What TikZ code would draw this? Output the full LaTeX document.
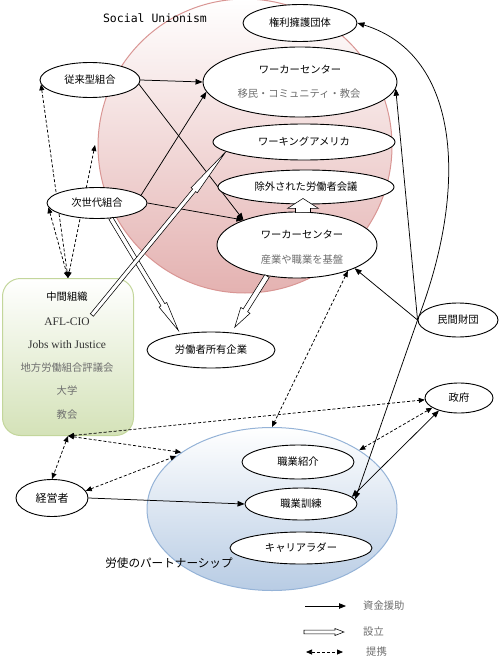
\documentclass[tikz,border=0pt]{standalone}
\usepackage{fontspec}
\setmainfont{Liberation Serif}
\newfontfamily\jp{Noto Sans CJK JP}
\newfontfamily\monof{DejaVu Sans Mono}
\usetikzlibrary{shapes.geometric,arrows.meta,calc}
\pgfdeclarelayer{back}
\pgfdeclarelayer{conn}
\pgfsetlayers{back,conn,main}
\definecolor{pinkline}{RGB}{217,150,148}
\definecolor{pinkfill}{RGB}{228,178,177}
\definecolor{blueline}{RGB}{149,179,215}
\definecolor{bluefill}{RGB}{184,204,228}
\definecolor{greenline}{RGB}{195,214,155}
\definecolor{greenfill}{RGB}{212,226,184}
\definecolor{subgray}{RGB}{110,110,110}
\definecolor{darktext}{RGB}{50,50,50}
\newcommand{\hollowarr}[5]{%
  \coordinate (ha-a) at #1;
  \coordinate (ha-b) at #2;
  \coordinate (ha-c) at ($(ha-b)!#5!(ha-a)$);
  \draw[hollowarrow] ($(ha-a)!#3!90:(ha-b)$) -- ($(ha-c)!#3!-90:(ha-a)$) -- ($(ha-c)!#4!-90:(ha-a)$) -- (ha-b) -- ($(ha-c)!#4!90:(ha-a)$) -- ($(ha-c)!#3!90:(ha-a)$) -- ($(ha-a)!#3!-90:(ha-b)$) -- cycle;}
\begin{document}
\begin{tikzpicture}[x=1pt,y=-1pt,
  oval/.style={ellipse, draw, line width=0.9pt, fill=white, inner sep=0pt, font=\jp\fontsize{10.3}{12}\selectfont},
  fundarr/.style={line width=0.75pt, -{Triangle[length=7pt,width=5.5pt]}},
  fundboth/.style={line width=0.75pt, {Triangle[length=7pt,width=5.5pt]}-{Triangle[length=7pt,width=5.5pt]}},
  linkarr/.style={line width=0.75pt, dash pattern=on 3pt off 2pt, {Triangle[length=6pt,width=5pt]}-{Triangle[length=6pt,width=5pt]}},
  hollowarrow/.style={draw, line width=0.55pt, fill=white, line join=miter},
  jtext/.style={font=\jp\fontsize{10.3}{12}\selectfont, inner sep=0pt},
  gtext/.style={jtext, text=subgray},
  ltext/.style={font=\fontsize{11.5}{13}\selectfont, inner sep=0pt, text=darktext}]
\useasboundingbox (0,0) rectangle (500,658);

\begin{pgfonlayer}{back}
\node[circle, minimum size=294pt, inner sep=0pt, draw=pinkline, line width=1pt, top color=white, bottom color=pinkfill] (su) at (245,146) {};
\node[ellipse, minimum width=250pt, minimum height=163pt, inner sep=0pt, draw=blueline, line width=1pt, top color=white, bottom color=bluefill] (lp) at (272,509) {};
\node[rectangle, rounded corners=18pt, minimum width=131pt, minimum height=157pt, anchor=north west, inner sep=0pt, draw=greenline, line width=1pt, top color=white, bottom color=greenfill] (mid) at (2,278) {};
\end{pgfonlayer}

% titles
\node[font=\monof\fontsize{11.5}{13}\selectfont, inner sep=0pt] (sutitle) at (155,18) {Social Unionism};
\node[font=\jp\fontsize{11.6}{13}\selectfont, inner sep=0pt] (lptitle) at (169,563) {労使のパートナーシップ};

% ellipse nodes
\node[oval, minimum width=114pt, minimum height=37pt] (adv) at (300,23) {権利擁護団体};
\node[oval, minimum width=194pt, minimum height=70pt] (wc1) at (300,82) {};
\node[jtext] (wc1a) at (300,70) {ワーカーセンター};
\node[gtext] (wc1b) at (299,94) {移民・コミュニティ・教会};
\node[oval, minimum width=182pt, minimum height=36pt] (wam) at (304,142) {ワーキングアメリカ};
\node[oval, minimum width=176pt, minimum height=34pt] (exc) at (306,187) {除外された労働者会議};
\node[oval, minimum width=160pt, minimum height=66pt] (wc2) at (297,245) {};
\node[jtext] (wc2a) at (302,235) {ワーカーセンター};
\node[gtext] (wc2b) at (302,260) {産業や職業を基盤};
\node[oval, minimum width=100pt, minimum height=35pt] (trad) at (90,80) {従来型組合};
\node[oval, minimum width=100pt, minimum height=31pt] (next) at (97,203) {次世代組合};
\node[oval, minimum width=128pt, minimum height=36pt] (wown) at (211,350) {労働者所有企業};
\node[oval, minimum width=80pt, minimum height=34pt] (found) at (458,320) {民間財団};
\node[oval, minimum width=68pt, minimum height=30pt] (gov) at (459,398) {政府};
\node[oval, minimum width=112pt, minimum height=34pt] (jp) at (298,462) {職業紹介};
\node[oval, minimum width=112pt, minimum height=32pt] (jt) at (301,504) {職業訓練};
\node[oval, minimum width=142pt, minimum height=32pt] (cl) at (301,548) {キャリアラダー};
\node[oval, minimum width=72pt, minimum height=37pt, font=\jp\fontsize{11}{13}\selectfont] (emp) at (52,498) {経営者};

% box texts
\node[jtext] (m1) at (67,297) {中間組織};
\node[ltext] (afl) at (67,322) {AFL-CIO};
\node[ltext] (jwj) at (67,345) {Jobs with Justice};
\node[gtext] (m4) at (67,368) {地方労働組合評議会};
\node[gtext] (m5) at (67,391) {大学};
\node[gtext] (m6) at (67,415) {教会};

% connectors
\coordinate (dfree) at (95,145);
\begin{pgfonlayer}{conn}
\draw[fundarr] (trad.east) -- (wc1.west);
\draw[fundarr] (trad.-5) -- (wc2.155);
\draw[fundarr] (next.10) -- (wc1.186);
\draw[fundarr] (next.east) -- (wc2.155);
\draw[fundarr] (found.west) .. controls (468,190) and (462,55) .. (adv.east);
\draw[fundarr] (found.west) -- (wc1.-4);
\draw[fundarr] (found.west) -- (wc2.-22);
\draw[fundarr] (found.west) -- (jt.5);
\draw[fundarr] (emp.east) -- (jt.west);
\draw[fundboth] (gov.212) -- (jt.8);
\draw[linkarr] (trad.185) -- (mid.north);
\draw[linkarr] (next.185) -- (mid.north);
\draw[linkarr] (dfree) -- (mid.north);
\draw[linkarr] (mid.south) -- (gov.183);
\draw[linkarr] (mid.south) -- (emp.north);
\draw[linkarr] (mid.south) -- (lp.148);
\draw[linkarr] (emp.12) -- (lp.151);
\draw[linkarr] (wc2.-27) -- (lp.north);
\draw[linkarr] (gov.200) -- (lp.34);
\end{pgfonlayer}

% hollow (establishment) arrows
\hollowarr{($(wc2.north)+(6pt,-1pt)$)}{($(exc.south)+(-3pt,6pt)$)}{7.5pt}{15.5pt}{10pt}
\hollowarr{(next.-48)}{($(wown.150)+(-4pt,3pt)$)}{2.2pt}{4.5pt}{30pt}
\hollowarr{($(afl.east)+(2pt,7pt)$)}{(wam.187)}{2pt}{4pt}{50pt}
\hollowarr{(wc2.226)}{($(wown.45)+(6pt,5pt)$)}{2.6pt}{5.5pt}{20pt}

% legend
\coordinate (lg1a) at (305,606);
\coordinate (lg1b) at (346,606);
\coordinate (lg2a) at (304,632);
\coordinate (lg2b) at (344,632);
\coordinate (lg3a) at (306,652);
\coordinate (lg3b) at (343,652);
\draw[fundarr] (lg1a) -- (lg1b);
\hollowarr{(lg2a)}{(lg2b)}{1.8pt}{3.5pt}{9pt}
\draw[linkarr] (lg3a) -- (lg3b);
\node[gtext, anchor=west] (lg1t) at (363,606) {資金援助};
\node[gtext, anchor=west] (lg2t) at (363,632) {設立};
\node[gtext, anchor=west] (lg3t) at (366,652) {提携};
\end{tikzpicture}
\end{document}
